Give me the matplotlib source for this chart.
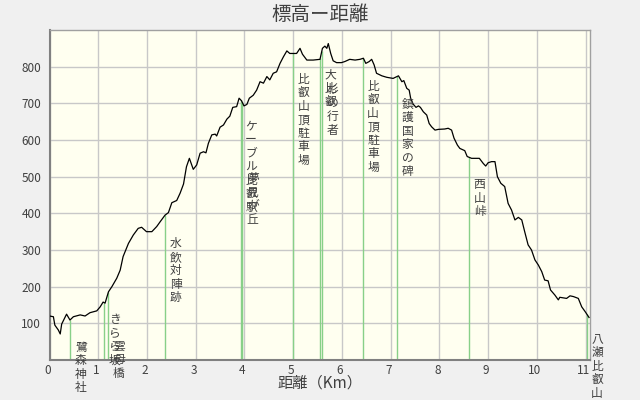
import numpy as np
import matplotlib
matplotlib.use('Agg')
import matplotlib.pyplot as plt
from matplotlib.transforms import offset_copy

plt.rcParams['font.family'] = ['Noto Sans CJK JP', 'DejaVu Sans']

# elevation profile (km, m)
dist_km = [0.0, 0.08, 0.11, 0.18, 0.22, 0.25, 0.35, 0.42, 0.49, 0.63, 0.73, 0.83,
           0.97, 1.04, 1.10, 1.14, 1.21, 1.28, 1.38, 1.45, 1.51, 1.55, 1.62, 1.72,
           1.82, 1.89, 1.99, 2.10, 2.20, 2.27, 2.37, 2.44, 2.51, 2.61, 2.68, 2.75,
           2.81, 2.87, 2.95, 3.02, 3.09, 3.16, 3.21, 3.26, 3.33, 3.40, 3.43, 3.50,
           3.57, 3.64, 3.70, 3.76, 3.84, 3.89, 3.94, 3.99, 4.05, 4.10, 4.18, 4.25,
           4.32, 4.39, 4.46, 4.52, 4.59, 4.66, 4.73, 4.80, 4.87, 4.93, 5.07, 5.14,
           5.19, 5.28, 5.41, 5.55, 5.60, 5.65, 5.69, 5.72, 5.77, 5.82, 5.89, 5.99,
           6.06, 6.16, 6.27, 6.37, 6.44, 6.49, 6.56, 6.61, 6.66, 6.71, 6.82, 6.92,
           7.05, 7.16, 7.23, 7.27, 7.33, 7.38, 7.41, 7.46, 7.52, 7.57, 7.61, 7.67,
           7.74, 7.79, 7.84, 7.91, 7.98, 8.11, 8.18, 8.25, 8.30, 8.37, 8.42, 8.52,
           8.57, 8.66, 8.82, 8.90, 8.95, 9.00, 9.07, 9.14, 9.19, 9.26, 9.34, 9.41,
           9.48, 9.55, 9.62, 9.69, 9.75, 9.82, 9.89, 9.96, 10.03, 10.10, 10.16,
           10.23, 10.28, 10.37, 10.44, 10.47, 10.61, 10.68, 10.75, 10.85, 10.92,
           10.99, 11.07]
elev_m = [120, 118, 95, 82, 71, 98, 125, 109, 118, 123, 120, 129,
          134, 145, 158, 155, 186, 200, 223, 245, 282, 295, 318, 341,
          359, 362, 350, 350, 364, 377, 395, 402, 429, 435, 455, 480,
          527, 550, 520, 532, 564, 568, 565, 591, 614, 616, 611, 635,
          641, 657, 665, 689, 691, 714, 707, 693, 697, 714, 722, 736,
          759, 755, 773, 764, 782, 786, 809, 827, 843, 836, 836, 850,
          834, 818, 818, 820, 850, 856, 850, 863, 836, 816, 811, 811,
          814, 820, 818, 820, 823, 809, 814, 820, 805, 782, 775, 771,
          768, 775, 759, 762, 741, 736, 714, 698, 689, 693, 689, 677,
          668, 645, 636, 627, 629, 630, 632, 627, 605, 586, 577, 571,
          555, 550, 550, 536, 529, 538, 541, 541, 500, 482, 473, 427,
          409, 382, 389, 382, 350, 314, 300, 273, 259, 241, 218,
          216, 191, 177, 164, 171, 168, 175, 173, 168, 145,
          132, 116]

# landmarks
mark_names = ['鷺森神社', 'きらら坂', '雲母橋', '水飲対陣跡', 'ケーブル比叡駅', '夢見が丘',
              '比叡山頂駐車場', '大比叡', '杉の行者', '比叡山頂駐車場', '鎮護国家の碑',
              '西山峠', '八瀬比叡山']
mark_km = [0.43, 1.12, 1.21, 2.38, 3.92, 3.955, 4.99, 5.555, 5.59, 6.425, 7.135,
           8.61, 11.02]
# label top, in metres on the y scale
label_top = [52, 128, 55, 335, 655, 512, 783, 796, 755, 764, 715, 496, 74]

xticks = list(range(0, 12))
yticks = list(range(100, 900, 100))

fig = plt.figure(figsize=(6.4, 4), dpi=100, facecolor='#f0f0f0')
ax = fig.add_axes([49.5 / 640, 40 / 400, 540.5 / 640, 330 / 400])
ax.set_facecolor('#fffff0')
ax.set_xlim(0, 11.09)
ax.set_ylim(0, 900)
ax.set_xticks(xticks)
ax.set_yticks(yticks)
ax.grid(True, color='#c8c8c8', linewidth=1)
ax.set_axisbelow(True)
ax.tick_params(length=0, labelsize=8.5, labelcolor='#404040')
ax.tick_params(axis='x', pad=3)
ax.tick_params(axis='y', pad=6)
for lab in ax.get_xticklabels():
    lab.set_transform(offset_copy(lab.get_transform(), fig, x=-2, units='dots'))
for side in ['left', 'bottom']:
    ax.spines[side].set_color('#808080')
    ax.spines[side].set_linewidth(1.5)
for side in ['top', 'right']:
    ax.spines[side].set_color('#a0a0a0')
    ax.spines[side].set_linewidth(1)

ax.plot(dist_km, elev_m, color='black', linewidth=0.9, zorder=3)

tops = np.interp(mark_km, dist_km, elev_m)
ax.vlines(mark_km, 0, tops, color='#88d088', linewidth=1, zorder=2)

for name, km, top in zip(mark_names, mark_km, label_top):
    for i, ch in enumerate(name):
        tr = offset_copy(ax.transData, fig, x=10.5, y=-13.5 * i, units='dots')
        ax.text(km, top, ch, transform=tr, ha='center', va='top',
                fontsize=8.5, color='#404040', zorder=4)

fig.text(0.5, 1 - 15 / 400, '標高ー距離', ha='center', va='center',
         fontsize=14, color='#404040')
fig.text(320 / 640, 1 - 383 / 400, '距離（Km）', ha='center', va='center',
         fontsize=11, color='#404040')

fig.savefig('out.png', dpi=100, facecolor=fig.get_facecolor())
